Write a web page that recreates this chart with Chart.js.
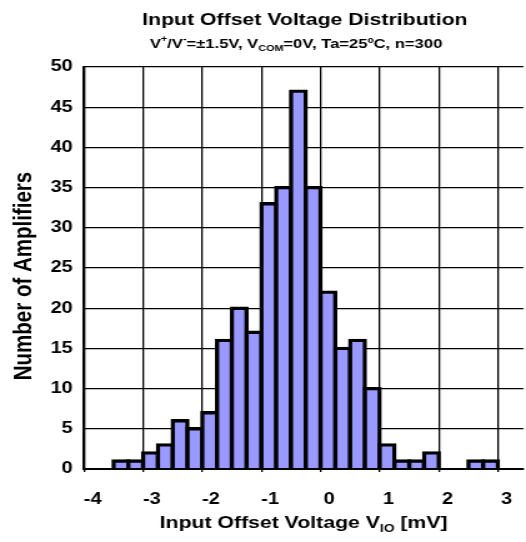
<!DOCTYPE html>
<html>
<head>
<meta charset="utf-8">
<script src="https://cdn.jsdelivr.net/npm/chart.js@4.4.1/dist/chart.umd.min.js"></script>
<style>
  html, body { margin: 0; padding: 0; background: #fff; overflow: hidden; }
  #wrap { width: 421px; height: 542px; transform: scaleX(1.24941); transform-origin: 0 0; }
  canvas { display: block; }
</style>
</head>
<body>
<div id="wrap"><canvas id="c" width="421" height="542"></canvas></div>
<script>
// ---- data ----
const binCenters = [-3.375, -3.125, -2.875, -2.625, -2.375, -2.125, -1.875, -1.625, -1.375, -1.125,
                    -0.875, -0.625, -0.375, -0.125, 0.125, 0.375, 0.625, 0.875, 1.125, 1.375,
                    1.625, 1.875, 2.125, 2.375, 2.625, 2.875];
const counts = [1, 1, 2, 3, 6, 5, 7, 16, 20, 17,
                33, 35, 47, 35, 22, 15, 16, 10, 3, 1,
                1, 2, 0, 0, 1, 1];
const xTickValues = [-4, -3, -2, -1, 0, 1, 2, 3];
const yTickValues = [0, 5, 10, 15, 20, 25, 30, 35, 40, 45, 50];

const titleText = "Input Offset Voltage Distribution";
const subtitleSegments = [["V", 1, 0], ["+", 0.65, -0.42], ["/V", 1, 0], ["-", 0.65, -0.42],
                          ["=\u00B11.5V, V", 1, 0], ["COM", 0.65, 0.22], ["=0V, Ta=25\u00BAC, n=300", 1, 0]];
const xTitleSegments = [["Input Offset Voltage V", 1, 0], ["IO", 0.65, 0.22], [" [mV]", 1, 0]];
const yTitleText = "Number of Amplifiers";

const FAM = "'Liberation Sans', Arial, sans-serif";

function drawRich(ctx, segs, size, cx, cy) {
  let total = 0;
  const parts = segs.map(([t, sc, sh]) => {
    ctx.font = `bold ${size * sc}px ${FAM}`;
    const w = ctx.measureText(t).width;
    total += w;
    return { t, sc, sh, w };
  });
  let x = cx - total / 2;
  const base = cy + size * 0.36;
  ctx.textAlign = 'left';
  ctx.textBaseline = 'alphabetic';
  parts.forEach(p => {
    ctx.font = `bold ${size * p.sc}px ${FAM}`;
    ctx.fillText(p.t, x, base + p.sh * size);
    x += p.w;
  });
}

const titlesPlugin = {
  id: 'titles',
  afterDraw(chart) {
    const ctx = chart.ctx;
    ctx.save();
    ctx.fillStyle = '#000';
    drawRich(ctx, [[titleText, 1, 0]], 17, 244, 19);
    drawRich(ctx, subtitleSegments, 13.3, 237, 43);
    drawRich(ctx, xTitleSegments, 17, 243, 522);
    ctx.translate(17.6, 276);
    ctx.rotate(-Math.PI / 2);
    drawRich(ctx, [[yTitleText, 1, 0]], 20.5, 0, 0);
    ctx.restore();
  }
};

const tickFont = { family: FAM, weight: 'bold', size: 16 };

new Chart(document.getElementById('c'), {
  type: 'bar',
  data: {
    datasets: [{
      data: binCenters.map((c, i) => ({ x: c, y: counts[i] === 0 ? null : counts[i] })),
      backgroundColor: '#9999FF',
      borderColor: '#000000',
      borderWidth: 3.4,
      borderSkipped: 'start',
      inflateAmount: 1.7,
      barPercentage: 1,
      categoryPercentage: 1
    }]
  },
  options: {
    responsive: false,
    animation: false,
    devicePixelRatio: 1,
    layout: { padding: { top: 67, left: 0, right: 0, bottom: 0 } },
    plugins: { legend: { display: false }, tooltip: { enabled: false }, title: { display: false } },
    scales: {
      x: {
        type: 'linear',
        min: -4,
        max: 3.43,
        offset: false,
        afterBuildTicks: s => { s.ticks = xTickValues.map(v => ({ value: v })); },
        afterFit: s => { s.height = 73; },
        grid: { color: '#000', lineWidth: 1.3, drawTicks: true, tickLength: 3, tickColor: '#000', offset: false },
        border: { display: true, color: '#000', width: 2, z: 1 },
        ticks: { font: tickFont, color: '#000', padding: 18, labelOffset: 7, maxRotation: 0, autoSkip: false }
      },
      y: {
        min: 0,
        max: 50,
        afterBuildTicks: s => { s.ticks = yTickValues.map(v => ({ value: v })); },
        afterFit: s => { s.width = 67.2; },
        grid: { color: '#000', lineWidth: 1.3, drawTicks: false },
        border: { display: true, color: '#000', width: 2, z: 1 },
        ticks: { font: tickFont, color: '#000', padding: 9 }
      }
    }
  },
  plugins: [titlesPlugin]
});
</script>
</body>
</html>
